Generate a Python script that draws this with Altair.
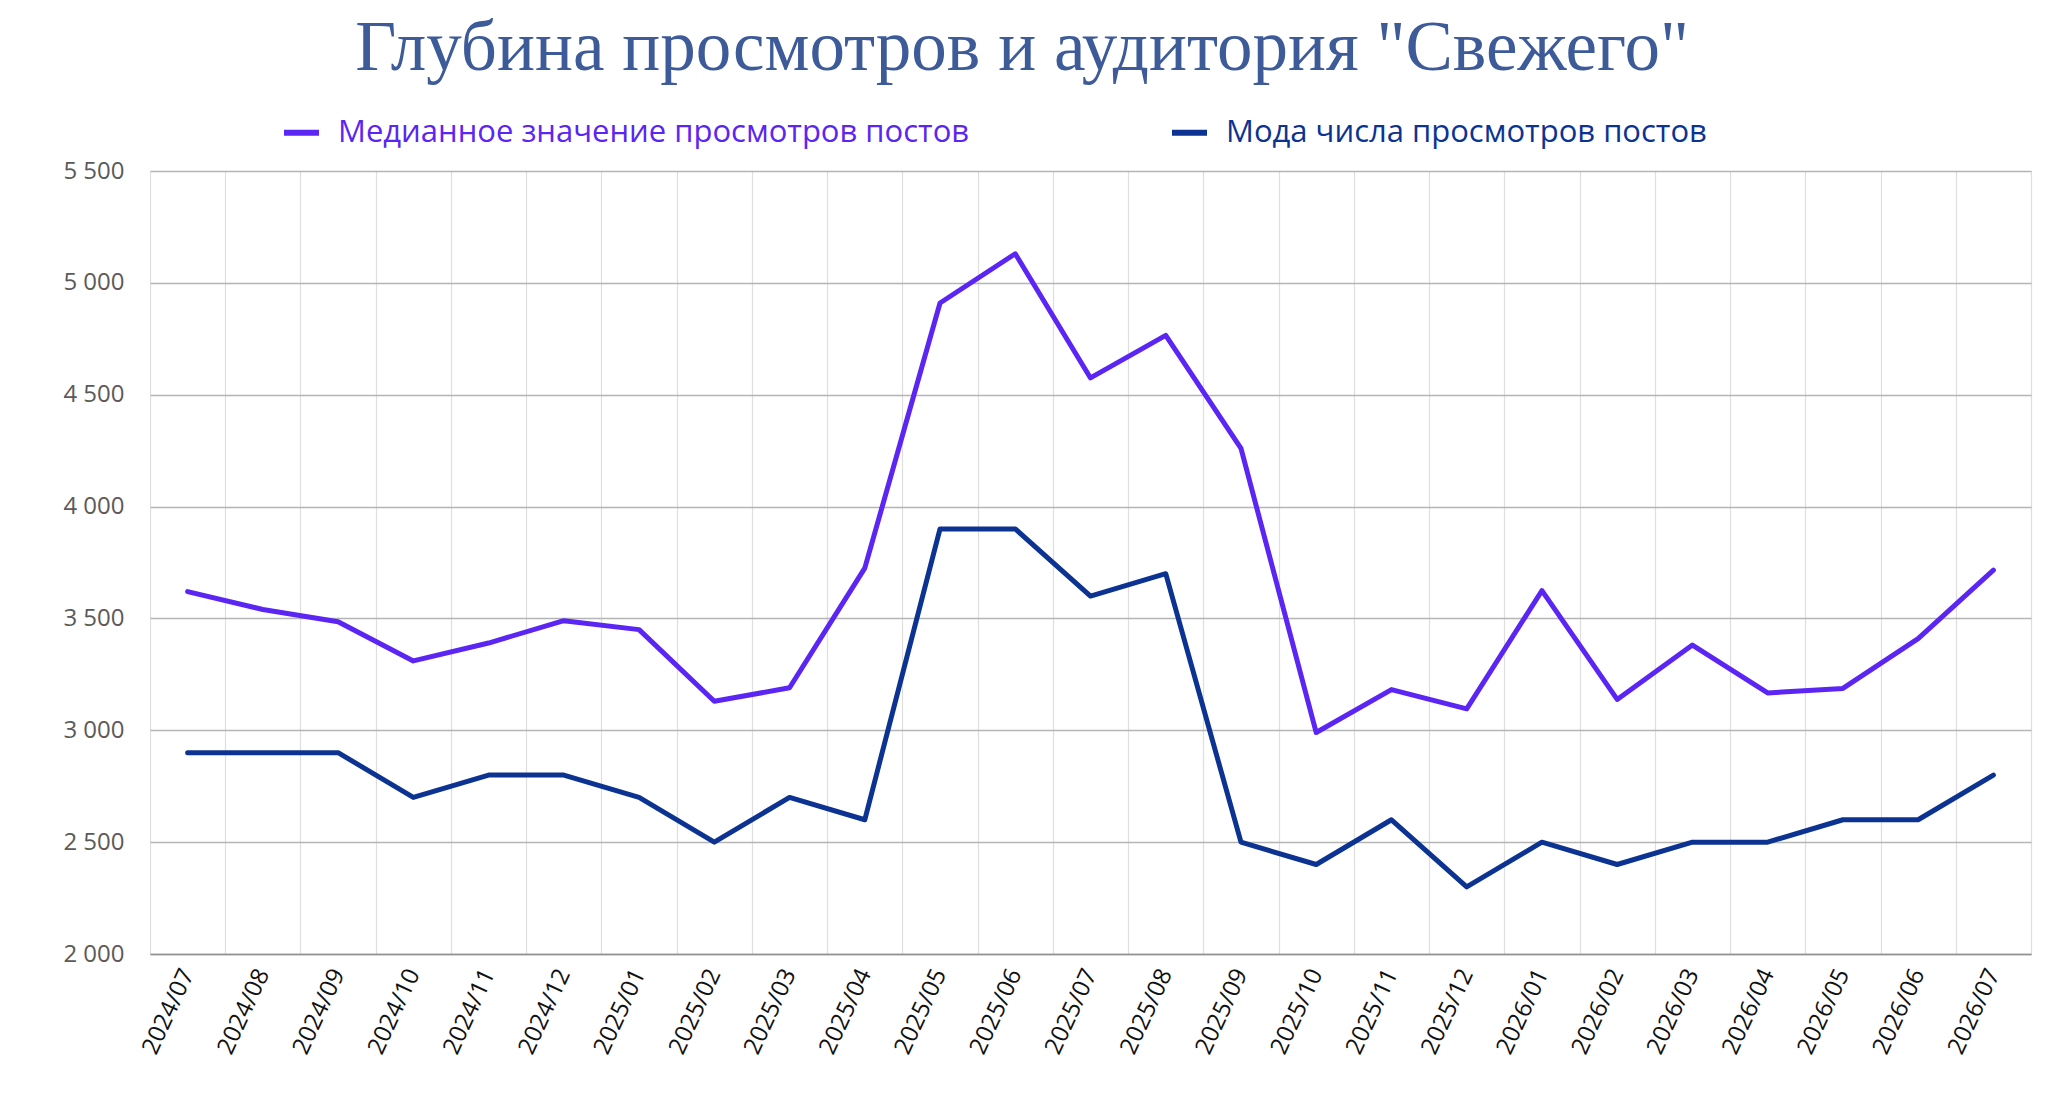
import altair as alt
import pandas as pd

months = ["2024/07", "2024/08", "2024/09", "2024/10", "2024/11", "2024/12",
          "2025/01", "2025/02", "2025/03", "2025/04", "2025/05", "2025/06",
          "2025/07", "2025/08", "2025/09", "2025/10", "2025/11", "2025/12",
          "2026/01", "2026/02", "2026/03", "2026/04", "2026/05", "2026/06", "2026/07"]

median_views = [3620, 3540, 3485, 3310, 3390, 3490, 3450, 3130, 3190, 3725,
                4910, 5130, 4575, 4765, 4260, 2990, 3182, 3096, 3624, 3138,
                3381, 3167, 3187, 3410, 3716]

mode_views = [2900, 2900, 2900, 2700, 2800, 2800, 2700, 2500, 2700, 2600,
              3900, 3900, 3600, 3700, 2500, 2400, 2600, 2300, 2500, 2400,
              2500, 2500, 2600, 2600, 2800]

s_median = "Медианное значение просмотров постов"
s_mode = "Мода числа просмотров постов"
series_names = [s_median, s_mode]
series_colors = ["#5B25F4", "#0C3392"]

y_ticks = [2000, 2500, 3000, 3500, 4000, 4500, 5000, 5500]

rows = []
for m, v in zip(months, median_views):
    rows.append({"month": m, "value": v, "series": s_median})
for m, v in zip(months, mode_views):
    rows.append({"month": m, "value": v, "series": s_mode})
df = pd.DataFrame(rows)

label_color_expr = (
    f"datum.label == '{s_median}' ? '{series_colors[0]}' : '{series_colors[1]}'"
)

chart = alt.Chart(df).mark_line(strokeWidth=5, strokeJoin="round", strokeCap="round").encode(
    x=alt.X("month:O", sort=months, bandPosition=0.5,
            scale=alt.Scale(type="band", paddingInner=0, paddingOuter=0),
            axis=alt.Axis(title=None, labelAngle=-65, labelFontSize=24,
                          labelFont="Open Sans", labelColor="#111111",
                          labelPadding=16, ticks=False, tickBand="extent",
                          grid=True, gridColor="#dedede", gridWidth=1.2,
                          domain=True, domainColor="#8f8f8f", domainWidth=1.6)),
    y=alt.Y("value:Q", scale=alt.Scale(domain=[2000, 5500], nice=False, zero=False),
            axis=alt.Axis(title=None, values=y_ticks, labelFontSize=24,
                          labelFont="Open Sans", labelColor="#5a5a5a",
                          labelExpr="replace(format(datum.value, ','), ',', ' ')",
                          labelPadding=26, ticks=False, domain=False,
                          grid=True, gridColor="#b5b5b5", gridWidth=1.5,
                          minExtent=137, maxExtent=137)),
    color=alt.Color("series:N", sort=series_names,
                    scale=alt.Scale(domain=series_names, range=series_colors),
                    legend=alt.Legend(title=None, orient="none", direction="horizontal",
                                      legendX=131, legendY=-59,
                                      symbolType="stroke", symbolSize=1225,
                                      symbolStrokeWidth=6, labelFontSize=31,
                                      labelFont="Open Sans", labelOffset=16,
                                      columnPadding=190, labelLimit=1000,
                                      labelColor={"expr": label_color_expr})),
).properties(
    width=1881,
    height=783,
    title=alt.TitleParams(text='Глубина просмотров и аудитория "Свежего"',
                          font="Liberation Serif", fontSize=71, fontWeight="normal",
                          color="#3D5A99", anchor="middle", frame="bounds", offset=27),
).configure_view(
    stroke="#dedede", strokeWidth=1.2
).configure(
    padding=5
)

chart.save("out.html", embed_options={"renderer": "svg", "actions": False})
